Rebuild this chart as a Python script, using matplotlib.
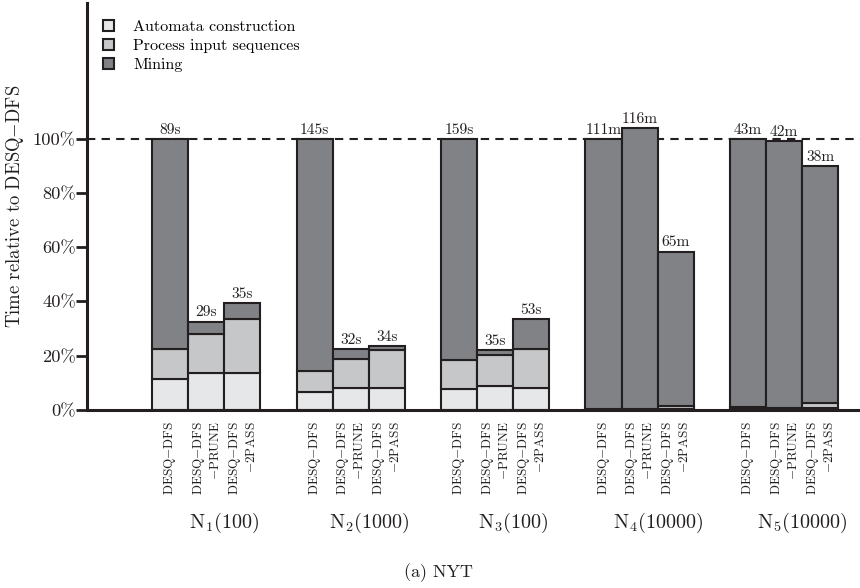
import numpy as np
import matplotlib
matplotlib.use('Agg')
import matplotlib.pyplot as plt
import matplotlib.transforms as mtransforms
from matplotlib.patches import Patch

plt.rcParams['font.family'] = 'serif'
plt.rcParams['font.serif'] = ['cmr10']
plt.rcParams['mathtext.fontset'] = 'cm'
plt.rcParams['axes.formatter.use_mathtext'] = True

# Datasets (pattern, support) and the three algorithms per dataset
groups = [r'N$_1$(100)', r'N$_2$(1000)', r'N$_3$(100)', r'N$_4$(10000)', r'N$_5$(10000)']
methods = ['DESQ$-$DFS', 'DESQ$-$DFS\n$-$PRUNE', 'DESQ$-$DFS\n$-$2PASS']

# Stacked shares in % of DESQ-DFS runtime, order: group by group, method by method
automata = [11.3, 13.5, 13.5, 6.8, 8.2, 8.2, 7.6, 9.0, 8.2, 0.1, 0.1, 0.3, 0.3, 0.2, 0.6]
process = [11.1, 14.5, 20.1, 7.7, 10.5, 13.9, 10.8, 11.2, 14.4, 0.3, 0.3, 1.0, 0.7, 0.6, 2.0]
total = [100, 32.6, 39.4, 100, 22.4, 23.5, 100, 22.1, 33.5, 100, 103.8, 58.4, 100, 99.0, 89.8]
runtime = ['89s', '29s', '35s', '145s', '32s', '34s', '159s', '35s', '53s',
           '111m', '116m', '65m', '43m', '42m', '38m']

c_auto = '#e6e7e8'
c_proc = '#c6c7c9'
c_mine = '#808285'
edge = '#231f20'

automata = np.array(automata)
process = np.array(process)
total = np.array(total)
mining = total - automata - process

n_meth = len(methods)
xpos = np.array([g * 4 + i + 0.5 for g in range(len(groups)) for i in range(n_meth)])

fig = plt.figure(figsize=(8.6, 5.88), dpi=100)
ax = fig.add_axes([87 / 860, 178 / 588, 773 / 860, 407 / 588])

kw = dict(width=1.0, edgecolor=edge, linewidth=1.5)
ax.bar(xpos, automata, color=c_auto, **kw)
ax.bar(xpos, process, bottom=automata, color=c_proc, **kw)
ax.bar(xpos, mining, bottom=automata + process, color=c_mine, **kw)

ax.axhline(100, color=edge, lw=1.5, ls=(0, (4, 3)), zorder=0.5)

for x, t, lab in zip(xpos, total, runtime):
    ax.annotate(lab, (x, t), xytext=(0, 1.5), textcoords='offset points',
                ha='center', va='bottom', fontsize=11.2, color=edge)

ax.set_xlim(-1.8, 19.6)
ax.set_ylim(0, 150)

ax.set_yticks([0, 20, 40, 60, 80, 100], ['0%', '20%', '40%', '60%', '80%', '100%'])
ax.tick_params(axis='y', direction='out', length=8, width=2, labelsize=13.3, pad=0,
               color=edge, labelcolor=edge)
ax.set_xticks(xpos)
ax.set_xticklabels([methods[i % n_meth] for i in range(len(xpos))], rotation=90,
                   va='top', ha='center', multialignment='right', fontsize=9.5,
                   color=edge)
ax.tick_params(axis='x', length=0, pad=8)

for s in ['top', 'right']:
    ax.spines[s].set_visible(False)
for s in ['left', 'bottom']:
    ax.spines[s].set_linewidth(2.2)
    ax.spines[s].set_color(edge)

ax.set_ylabel('Time relative to DESQ$-$DFS', fontsize=13.5, color=edge)
ax.yaxis.set_label_coords(-0.079, 0.5)

trans = mtransforms.blended_transform_factory(ax.transData, ax.transAxes)
for g, name in enumerate(groups):
    ax.text(g * 4 + 2.0, -0.278, name, transform=trans, ha='center', va='center',
            fontsize=14.5, color=edge)

handles = [Patch(facecolor=c_auto, edgecolor=edge, lw=1.5),
           Patch(facecolor=c_proc, edgecolor=edge, lw=1.5),
           Patch(facecolor=c_mine, edgecolor=edge, lw=1.5)]
ax.legend(handles, ['Automata construction', 'Process input sequences', 'Mining'],
          loc='upper left', bbox_to_anchor=(0.012, 0.975), frameon=False,
          fontsize=11.5, handlelength=0.7, handleheight=0.7, handletextpad=1.2,
          labelspacing=0.3, borderaxespad=0)

fig.text(438 / 860, 1 - 573 / 588, '(a) NYT', ha='center', va='center', fontsize=13,
         color=edge)

fig.savefig('out.png', dpi=100)
